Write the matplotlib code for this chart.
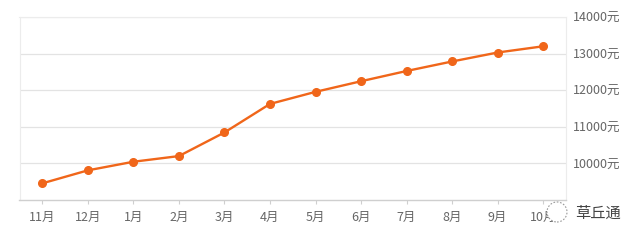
import matplotlib
matplotlib.use("Agg")
import matplotlib.pyplot as plt
from matplotlib.patches import Circle

plt.rcParams['font.family'] = ['Noto Sans CJK SC', 'DejaVu Sans']

months = ["11月", "12月", "1月", "2月", "3月", "4月", "5月", "6月", "7月", "8月", "9月", "10月"]
prices = [9455, 9810, 10045, 10200, 10845, 11625, 11955, 12245, 12525, 12785, 13030, 13200]
y_ticks = [10000, 11000, 12000, 13000, 14000]
y_labels = [f"{v}元" for v in y_ticks]

fig = plt.figure(figsize=(6.4, 2.43), dpi=100)
ax = fig.add_axes([19.5/640, 1-200/243, (566-19.5)/640, (200-17)/243])

x = list(range(len(months)))
ax.plot(x, prices, color="#f0661a", lw=1.7, marker="o", ms=5.5,
        markerfacecolor="#f0661a", markeredgecolor="#f0661a", zorder=3)

ax.set_xlim(-0.5, len(months) - 0.5)
ax.set_ylim(9000, 14000)
ax.set_xticks(x)
ax.set_xticklabels(months)
ax.set_yticks(y_ticks)
ax.set_yticklabels(y_labels)
ax.yaxis.tick_right()
ax.grid(axis="y", color="#e3e3e3", lw=0.9)
ax.set_axisbelow(True)
for s in ["top", "right", "left"]:
    ax.spines[s].set_color("#ececec")
    ax.spines[s].set_linewidth(0.8)
ax.spines["bottom"].set_color("#cfcfcf")
ax.spines["bottom"].set_linewidth(1.0)
ax.tick_params(axis="x", length=3, color="#cfcfcf", labelsize=9,
               labelcolor="#666666", pad=5)
ax.tick_params(axis="y", length=0, labelsize=9, labelcolor="#666666", pad=5)

# watermark
circ = Circle((5.57, (243-212)/100), 0.1, transform=fig.dpi_scale_trans,
              facecolor="white", edgecolor="#999999", ls=(0, (1.5, 1.5)),
              lw=0.8, zorder=10)
fig.patches.append(circ)
fig.text(598/640, 1-213/243, "草丘通", fontsize=11, color="#444444",
         ha="center", va="center")

fig.savefig("out.png", dpi=100, facecolor="white")
